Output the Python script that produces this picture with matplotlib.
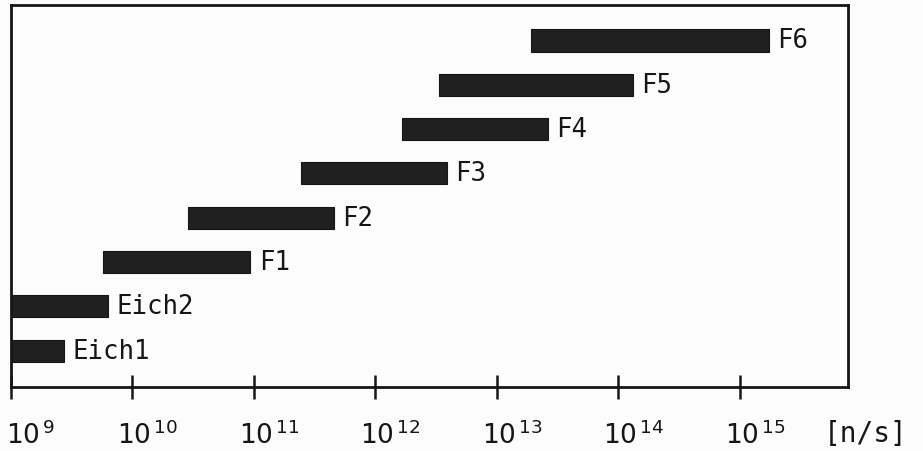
import numpy as np
import matplotlib
matplotlib.use("Agg")
import matplotlib.pyplot as plt
import matplotlib.transforms as mtransforms

# ── Data: log10 of neutron rate ranges per setting ───────────────────
settings = ["Eich1", "Eich2", "F1", "F2", "F3", "F4", "F5", "F6"]
log_lo = [9.0, 9.0, 9.76, 10.46, 11.39, 12.22, 12.52, 13.28]
log_hi = [9.44, 9.80, 10.97, 11.66, 12.59, 13.42, 14.12, 15.24]
decades = [9, 10, 11, 12, 13, 14, 15]
unit_label = "[n/s]"

lo = np.power(10.0, log_lo)
hi = np.power(10.0, log_hi)
ypos = np.arange(len(settings))

# ── Plot ─────────────────────────────────────────────────────────────
plt.rcParams["mathtext.fontset"] = "dejavusans"
ink = "#161616"
paper = "#fcfcfc"

fig = plt.figure(figsize=(9.23, 4.52), dpi=100)
fig.patch.set_facecolor(paper)
ax = fig.add_axes([11 / 923, 1 - 388 / 452, 837 / 923, 382 / 452])
ax.set_facecolor(paper)

ax.barh(ypos, hi - lo, left=lo, height=0.5, color="#202020", edgecolor=ink,
        linewidth=0.8)

for y, x, name in zip(ypos, hi, settings):
    ax.annotate(name, (x, y), xytext=(6, 0), textcoords="offset points",
                va="center", ha="left", fontsize=18.5, color=ink,
                family="DejaVu Sans Mono")

ax.set_xscale("log")
ax.set_xlim(1e9, 10 ** 15.89)
ax.set_ylim(-0.82, 7.8)
ax.set_yticks([])

# decade ticks, labels drawn separately so the "10" sits over the tick
ax.set_xticks([10.0 ** d for d in decades])
ax.set_xticklabels([])
ax.xaxis.set_minor_locator(matplotlib.ticker.NullLocator())
ax.tick_params(axis="x", direction="inout", length=17, width=1.8, color=ink)

xform = mtransforms.blended_transform_factory(ax.transData, ax.transAxes)
for i, d in enumerate(decades):
    dx = -5 if i == 0 else -15
    off = mtransforms.ScaledTranslation(dx / 100, 0, fig.dpi_scale_trans)
    ax.text(10.0 ** d, -0.125, rf"$10^{{\,{d}}}$", transform=xform + off,
            ha="left", va="center", fontsize=19, color=ink)

for spine in ax.spines.values():
    spine.set_color(ink)
    spine.set_linewidth(2.0)

ax.text(1.021, -0.12, unit_label, transform=ax.transAxes, ha="center",
        va="center", fontsize=20, color=ink, family="DejaVu Sans Mono")

fig.savefig("out.png", dpi=100, facecolor=fig.get_facecolor())
plt.close(fig)
